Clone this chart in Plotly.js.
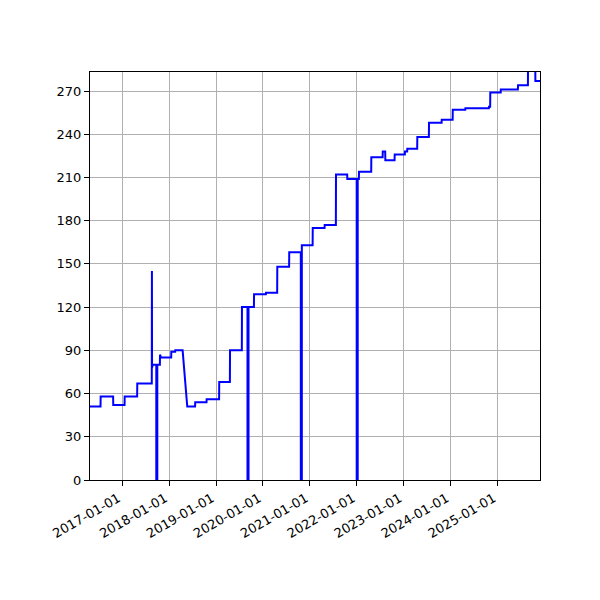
<!DOCTYPE html>
<html>
<head>
<meta charset="utf-8">
<script src="https://cdn.plot.ly/plotly-3.0.1.min.js"></script>
<style>
  html, body { margin: 0; padding: 0; background: #fff; }
  #chart { width: 600px; height: 600px; }
</style>
</head>
<body>
<div id="chart"></div>
<script>
// series: dates and counts, drops to 0 included
const dates = [
  '2016-04-25', '2016-07-16', '2016-07-17', '2016-10-22', '2016-10-23', '2017-01-19',
  '2017-01-20', '2017-04-27', '2017-04-28', '2017-08-19', '2017-08-20', '2017-08-21',
  '2017-08-27', '2017-09-23', '2017-09-23', '2017-10-01', '2017-10-01', '2017-10-21',
  '2017-10-22', '2017-10-30', '2018-01-17', '2018-01-18', '2018-02-17', '2018-02-18',
  '2018-04-16', '2018-05-22', '2018-07-22', '2018-07-23', '2018-10-19', '2018-10-20',
  '2019-01-25', '2019-01-26', '2019-04-19', '2019-04-20', '2019-07-21', '2019-07-22',
  '2019-09-03', '2019-09-03', '2019-09-11', '2019-09-11', '2019-10-23', '2019-10-24',
  '2020-01-24', '2020-01-25', '2020-04-21', '2020-04-22', '2020-07-23', '2020-07-24',
  '2020-10-22', '2020-10-22', '2020-10-30', '2020-10-30', '2021-01-22', '2021-01-23',
  '2021-04-25', '2021-04-26', '2021-07-22', '2021-07-23', '2021-10-18', '2021-10-19',
  '2021-12-31', '2021-12-31', '2022-01-08', '2022-01-08', '2022-01-17', '2022-01-18',
  '2022-04-23', '2022-04-24', '2022-07-21', '2022-07-22', '2022-08-10', '2022-08-11',
  '2022-10-22', '2022-10-23', '2023-01-10', '2023-01-11', '2023-01-28', '2023-01-29',
  '2023-04-16', '2023-04-17', '2023-07-16', '2023-07-17', '2023-10-23', '2023-10-24',
  '2024-01-17', '2024-01-18', '2024-04-24', '2024-04-25', '2024-10-25', '2024-10-26',
  '2024-11-04', '2024-11-05', '2025-01-25', '2025-01-26', '2025-06-08', '2025-06-09',
  '2025-08-25', '2025-08-26', '2025-10-21', '2025-10-22', '2025-11-27'
];
const counts = [
  51, 51, 58, 58, 52, 52,
  58, 58, 67, 67, 145, 78,
  80, 80, 0, 0, 80, 80,
  87, 85, 85, 89, 89, 90,
  90, 51, 51, 54, 54, 56,
  56, 68, 68, 90, 90, 120,
  120, 0, 0, 120, 120, 129,
  129, 130, 130, 148, 148, 158,
  158, 0, 0, 163, 163, 175,
  175, 177, 177, 212, 212, 209,
  209, 0, 0, 209, 209, 214,
  214, 224, 224, 228, 228, 222,
  222, 226, 226, 228, 228, 230,
  230, 238, 238, 248, 248, 250,
  250, 257, 257, 258, 258, 259,
  259, 269, 269, 271, 271, 274,
  274, 290, 290, 277, 277
];

const yearTicks = ['2017-01-01', '2018-01-01', '2019-01-01', '2020-01-01', '2021-01-01',
                   '2022-01-01', '2023-01-01', '2024-01-01', '2025-01-01'];
const yTicks = [0, 30, 60, 90, 120, 150, 180, 210, 240, 270];

let trace = {
  x: dates,
  y: counts,
  type: 'scatter',
  mode: 'lines',
  line: { color: '#0000ff', width: 2 },
  hoverinfo: 'x+y'
};

let layout = {
  width: 600,
  height: 600,
  margin: { l: 90, r: 60, t: 72, b: 120 },
  paper_bgcolor: '#ffffff',
  plot_bgcolor: '#ffffff',
  showlegend: false,
  font: { family: 'DejaVu Sans, sans-serif', size: 13, color: '#000' },
  xaxis: {
    type: 'date',
    range: ['2016-04-25', '2025-11-27'],
    tickmode: 'array',
    tickvals: yearTicks,
    ticktext: yearTicks,
    tickangle: -30,
    ticklabelshift: -4,
    ticks: 'outside',
    ticklen: 5,
    tickcolor: '#000',
    showgrid: true,
    gridcolor: '#b0b0b0',
    gridwidth: 1,
    showline: true,
    linecolor: '#000',
    linewidth: 1,
    mirror: true,
    zeroline: false
  },
  yaxis: {
    range: [0, 283.2],
    tickmode: 'array',
    tickvals: yTicks,
    ticks: 'outside',
    ticklen: 5,
    tickcolor: '#000',
    showgrid: true,
    gridcolor: '#b0b0b0',
    gridwidth: 1,
    showline: true,
    linecolor: '#000',
    linewidth: 1,
    mirror: true,
    zeroline: false
  }
};

Plotly.newPlot('chart', [trace], layout, { displayModeBar: false, staticPlot: true });
</script>
</body>
</html>
